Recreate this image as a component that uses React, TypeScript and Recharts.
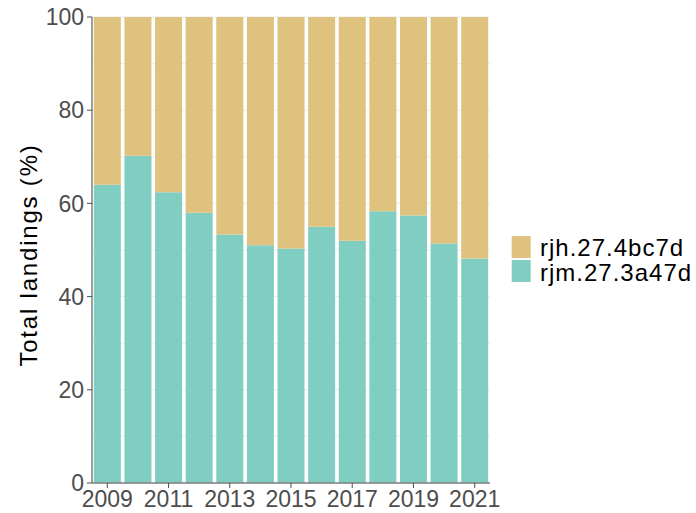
import { BarChart, Bar, XAxis, YAxis, CartesianGrid } from 'recharts'

const YEARS = ['2009', '2010', '2011', '2012', '2013', '2014', '2015', '2016', '2017', '2018', '2019', '2020', '2021']
const RJM = [64.0, 70.2, 62.4, 58.0, 53.3, 51.0, 50.3, 55.0, 52.0, 58.3, 57.4, 51.4, 48.2]
const RJH = [36.0, 29.8, 37.6, 42.0, 46.7, 49.0, 49.7, 45.0, 48.0, 41.7, 42.6, 48.6, 51.8]
const Y_TICKS = [0, 20, 40, 60, 80, 100]
const GRID_VALUES = [0, 10, 20, 30, 40, 50, 60, 70, 80, 90, 100]

const SERIES = [
  { key: 'rjm', label: 'rjm.27.3a47d', color: '#80CDC1' },
  { key: 'rjh', label: 'rjh.27.4bc7d', color: '#DFC27D' },
] as const

const data = YEARS.map((year, i) => ({ year, rjm: RJM[i], rjh: RJH[i] }))

const TICK_STYLE = { fontSize: 23, fill: '#4D4D4D', fontFamily: 'Liberation Sans, Arial, sans-serif' }

function YTitle() {
  return (
    <text
      x={36.5}
      y={255}
      transform="rotate(-90 36.5 255)"
      textAnchor="middle"
      fontSize={24}
      letterSpacing={1.8}
      fill="#000"
      fontFamily="Liberation Sans, Arial, sans-serif"
    >
      Total landings (%)
    </text>
  )
}

export default function App() {
  const legendItems = [...SERIES].reverse()
  return (
    <div style={{ position: 'absolute', left: 0, top: 0, width: 696, height: 513, background: '#fff', fontFamily: 'Liberation Sans, Arial, sans-serif' }}>
      <BarChart
        width={696}
        height={513}
        data={data}
        margin={{ top: 17, right: 206, left: 0, bottom: 0 }}
        barCategoryGap="6%"
      >
        <CartesianGrid horizontalValues={GRID_VALUES} vertical={false} stroke="#EBEBEB" strokeWidth={1} />
        <XAxis
          dataKey="year"
          interval={1}
          height={30}
          tick={TICK_STYLE}
          tickSize={5}
          tickMargin={3}
          tickLine={{ stroke: '#4D4D4D' }}
          axisLine={{ stroke: '#7F7F7F', strokeWidth: 1.5 }}
        />
        <XAxis xAxisId="top" orientation="top" dataKey="year" height={0} tick={false} tickLine={false} axisLine={{ stroke: '#A6A6A6', strokeWidth: 1.5 }} />
        <YAxis
          domain={[0, 100]}
          ticks={Y_TICKS}
          width={92}
          tick={TICK_STYLE}
          tickSize={5}
          tickMargin={3}
          tickLine={{ stroke: '#4D4D4D' }}
          axisLine={{ stroke: '#7F7F7F', strokeWidth: 1.5 }}
          label={<YTitle />}
        />
        <YAxis yAxisId="right" orientation="right" domain={[0, 100]} width={0} tick={false} tickLine={false} axisLine={{ stroke: '#A6A6A6', strokeWidth: 1.5 }} />
        {SERIES.map((s) => (
          <Bar key={s.key} dataKey={s.key} name={s.label} stackId="a" fill={s.color} isAnimationActive={false} />
        ))}
      </BarChart>
      <svg width={190} height={60} style={{ position: 'absolute', left: 505, top: 228 }}>
        {legendItems.map((s, i) => (
          <g key={s.key}>
            <rect x={6.7} y={8 + i * 24} width={19} height={22} fill={s.color} />
            <text
              x={35}
              y={27.5 + i * 25.5}
              fontSize={24}
              letterSpacing={1}
              fill="#000"
              fontFamily="Liberation Sans, Arial, sans-serif"
            >
              {s.label}
            </text>
          </g>
        ))}
      </svg>
    </div>
  )
}
